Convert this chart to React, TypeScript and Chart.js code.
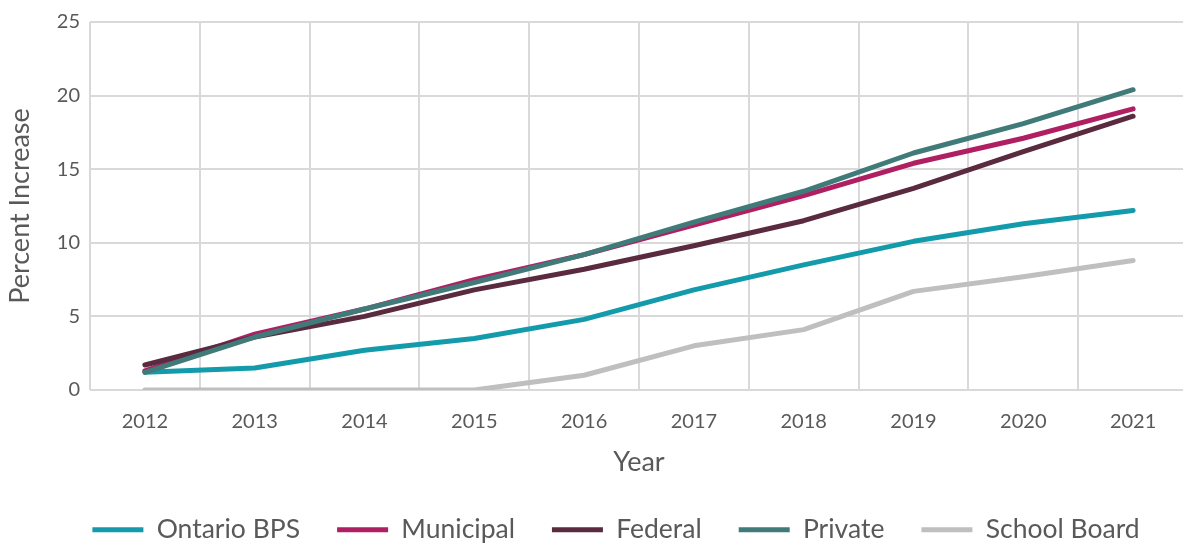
import React, { useEffect, useRef } from "react";
import { Chart, registerables } from "chart.js";

Chart.register(...registerables);

const years = ["2012", "2013", "2014", "2015", "2016", "2017", "2018", "2019", "2020", "2021"];
const ontarioBPS = [1.2, 1.5, 2.7, 3.5, 4.8, 6.8, 8.5, 10.1, 11.3, 12.2];
const municipal = [1.3, 3.8, 5.5, 7.5, 9.2, 11.2, 13.2, 15.4, 17.1, 19.1];
const federal = [1.7, 3.6, 5.0, 6.8, 8.2, 9.8, 11.5, 13.7, 16.2, 18.6];
const privateSector = [1.2, 3.6, 5.5, 7.3, 9.2, 11.4, 13.5, 16.1, 18.1, 20.4];
const schoolBoard = [0, 0, 0, 0, 1.0, 3.0, 4.1, 6.7, 7.7, 8.8];

const seriesNames = ["Ontario BPS", "Municipal", "Federal", "Private", "School Board"];
const seriesColors = ["#139bab", "#b11f63", "#5a2a3f", "#407b7a", "#bfbfbf"];
const seriesData = [ontarioBPS, municipal, federal, privateSector, schoolBoard];

const FONT = "Lato, 'Open Sans', sans-serif";
const TEXT = "#595959";

const shiftLegend = {
  id: "shiftLegend",
  afterLayout(chart: any) {
    const l = chart.legend;
    if (l) {
      l.left += 22;
      l.right += 22;
    }
  },
};

export default function App() {
  const ref = useRef<HTMLCanvasElement | null>(null);
  useEffect(() => {
    if (!ref.current) return;
    const chart = new Chart(ref.current, {
      type: "line",
      data: {
        labels: years,
        datasets: seriesData.map((d, i) => ({
          label: seriesNames[i],
          data: d,
          borderColor: seriesColors[i],
          backgroundColor: seriesColors[i],
          borderWidth: 5,
          borderCapStyle: "round" as const,
          borderJoinStyle: "round" as const,
          pointRadius: 0,
          pointHoverRadius: 0,
          tension: 0,
          fill: false,
          order: seriesData.length - i,
        })),
      },
      plugins: [shiftLegend],
      options: {
        responsive: true,
        maintainAspectRatio: false,
        animation: false,
        layout: { padding: { top: 22, right: 0, bottom: 0, left: 0 } },
        plugins: {
          tooltip: { enabled: false },
          legend: {
            position: "bottom",
            labels: {
              usePointStyle: true,
              pointStyle: "line",
              pointStyleWidth: 51,
              padding: 37,
              color: TEXT,
              font: { family: FONT, size: 26.5 },
              sort: (a: any, b: any) => a.datasetIndex - b.datasetIndex,
            },
          },
        },
        scales: {
          x: {
            offset: true,
            grid: { offset: true, color: "#d9d9d9", lineWidth: 2, drawTicks: false },
            border: { display: false },
            ticks: { color: TEXT, font: { family: FONT, size: 20 }, padding: 20, maxRotation: 0 },
            title: { display: true, text: "Year", color: TEXT, font: { family: FONT, size: 27 }, padding: { top: 0, bottom: 1 } },
            afterFit: (s: any) => { s.height = 89.5; },
          },
          y: {
            min: 0,
            max: 25,
            ticks: { stepSize: 5, color: TEXT, font: { family: FONT, size: 20 }, padding: 10 },
            grid: { color: "#d9d9d9", lineWidth: 2, drawTicks: false },
            border: { display: false },
            title: { display: true, text: "Percent Increase", color: TEXT, font: { family: FONT, size: 27 }, padding: { top: 4, bottom: 0 } },
            afterFit: (s: any) => { s.width = 90; },
          },
        },
      },
    });
    return () => chart.destroy();
  }, []);
  return (
    <div style={{ position: "fixed", left: 0, top: 0, width: 1188, height: 553 }}>
      <canvas ref={ref} />
    </div>
  );
}
